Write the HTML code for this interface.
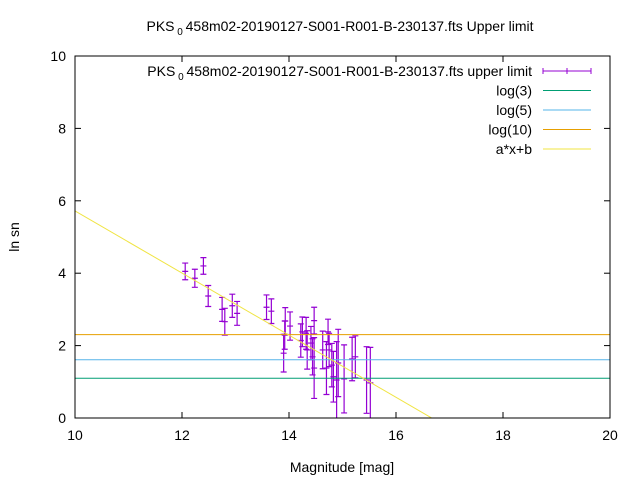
<!DOCTYPE html>
<html><head><meta charset="utf-8"><style>
html,body{margin:0;padding:0;background:#fff;width:640px;height:480px;overflow:hidden}
svg{display:block;font-family:"Liberation Sans",sans-serif;font-size:14px}
</style></head><body>
<svg id="c" width="640" height="480" xmlns="http://www.w3.org/2000/svg"></svg>
<script>
const mags=[12.06,12.24,12.40,12.49,12.75,12.80,12.94,13.03,13.58,13.67,13.90,13.93,13.92,14.02,14.22,14.25,14.32,14.34,14.41,14.44,14.47,14.47,14.63,14.70,14.73,14.75,14.80,14.83,14.89,14.92,15.03,15.18,15.24,15.45,15.52];
const lnsn=[4.05,3.86,4.2,3.37,3.0,2.66,3.1,2.89,3.06,2.95,1.79,2.68,2.29,2.54,2.14,2.38,2.34,1.88,2.07,1.69,2.69,1.38,1.88,1.38,2.38,1.88,1.46,1.14,1.05,1.52,1.08,1.63,1.69,1.05,0.97];
const errs=[0.23,0.25,0.23,0.29,0.33,0.37,0.32,0.33,0.34,0.34,0.52,0.37,0.39,0.39,0.46,0.41,0.44,0.53,0.46,0.5,0.37,0.84,0.52,0.73,0.35,0.46,0.6,0.7,1.06,0.93,0.94,0.6,0.58,0.92,0.98];
const xTicks=[10,12,14,16,18,20];
const yTicks=[0,2,4,6,8,10];
const fitA=-0.858, fitB=14.3;
const hLines=[{v:Math.log(3),c:'#009e73'},{v:Math.log(5),c:'#56b4e9'},{v:Math.log(10),c:'#e69f00'}];
const L=75,R=610,T=56,B=418;
const X=m=>L+(m-10)/10*(R-L), Y=v=>B-v/10*(B-T);
const svg=document.getElementById('c');
function el(t,a,txt){const e=document.createElementNS('http://www.w3.org/2000/svg',t);for(const k in a)e.setAttribute(k,a[k]);if(txt!==undefined)e.textContent=txt;svg.appendChild(e);return e;}
const defs=el('defs',{});
const cp=document.createElementNS('http://www.w3.org/2000/svg','clipPath');cp.setAttribute('id','pc');
const cr=document.createElementNS('http://www.w3.org/2000/svg','rect');cr.setAttribute('x',L);cr.setAttribute('y',T);cr.setAttribute('width',R-L);cr.setAttribute('height',B-T);cp.appendChild(cr);defs.appendChild(cp);
xTicks.forEach(t=>{const x=X(t);
 let a=el('line',{x1:x,x2:x,y1:B,y2:B-6,stroke:'#000'});
 el('line',{x1:x,x2:x,y1:T,y2:T+6,stroke:'#000'});
 let l=el('text',{x:x,y:B+22,'text-anchor':'middle'},t);});
yTicks.forEach(t=>{const y=Y(t);
 let a=el('line',{x1:L,x2:L+6,y1:y,y2:y,stroke:'#000'});
 el('line',{x1:R,x2:R-6,y1:y,y2:y,stroke:'#000'});
 let l=el('text',{x:L-9,y:y+5,'text-anchor':'end'},t);});
const g=el('g',{'clip-path':'url(#pc)'});
mags.forEach((m,i)=>{const x=X(m),y1=Y(lnsn[i]+errs[i]),y2=Y(lnsn[i]-errs[i]),y=Y(lnsn[i]);
 const e=document.createElementNS('http://www.w3.org/2000/svg','path');
 e.setAttribute('d',`M${x},${y1}V${y2}M${x-3},${y1}h6M${x-3},${y2}h6M${x-3},${y}h6`);
 e.setAttribute('stroke','#9400d3');e.setAttribute('fill','none');e.setAttribute('stroke-width','1.2');
 
 
 g.appendChild(e);});
hLines.forEach(h=>{const e=document.createElementNS('http://www.w3.org/2000/svg','line');
 e.setAttribute('x1',L);e.setAttribute('x2',R);e.setAttribute('y1',Y(h.v));e.setAttribute('y2',Y(h.v));e.setAttribute('stroke',h.c);
 
 
 g.appendChild(e);});
const fl=document.createElementNS('http://www.w3.org/2000/svg','line');
fl.setAttribute('x1',X(10));fl.setAttribute('y1',Y(fitA*10+fitB));fl.setAttribute('x2',X(20));fl.setAttribute('y2',Y(fitA*20+fitB));fl.setAttribute('stroke','#f0e442');


g.appendChild(fl);
let fr=el('rect',{x:L,y:T,width:R-L,height:B-T,fill:'none',stroke:'#000'});
const leg=[{t:'PKS\u2080458m02-20190127-S001-R001-B-230137.fts upper limit',c:'#9400d3',e:1},{t:'log(3)',c:'#009e73'},{t:'log(5)',c:'#56b4e9'},{t:'log(10)',c:'#e69f00'},{t:'a*x+b',c:'#f0e442'}];
leg.forEach((o,i)=>{const y=71+i*19.5;
 let t;
 if(o.e){t=el('text',{x:532,y:y+5,'text-anchor':'end'});t.innerHTML='PKS<tspan font-size="10" dy="4"> 0 </tspan><tspan dy="-4">458m02-20190127-S001-R001-B-230137.fts upper limit</tspan>';}
 else t=el('text',{x:532,y:y+5,'text-anchor':'end'},o.t);
 
 let s=el('line',{x1:543,x2:591,y1:y,y2:y,stroke:o.c});
 if(o.e){el('path',{d:`M543,${y-3}v6M591,${y-3}v6M567,${y-3}v6`,stroke:o.c});}
});
let ti=el('text',{x:340,y:31,'text-anchor':'middle'});ti.innerHTML='PKS<tspan font-size="10" dy="4"> 0 </tspan><tspan dy="-4">458m02-20190127-S001-R001-B-230137.fts Upper limit</tspan>';

let xl=el('text',{x:342,y:472,'text-anchor':'middle'},'Magnitude [mag]');
let yl=el('text',{x:0,y:0,'text-anchor':'middle',transform:'translate(19,237) rotate(-90)'},'ln sn');
</script>
</body></html>
